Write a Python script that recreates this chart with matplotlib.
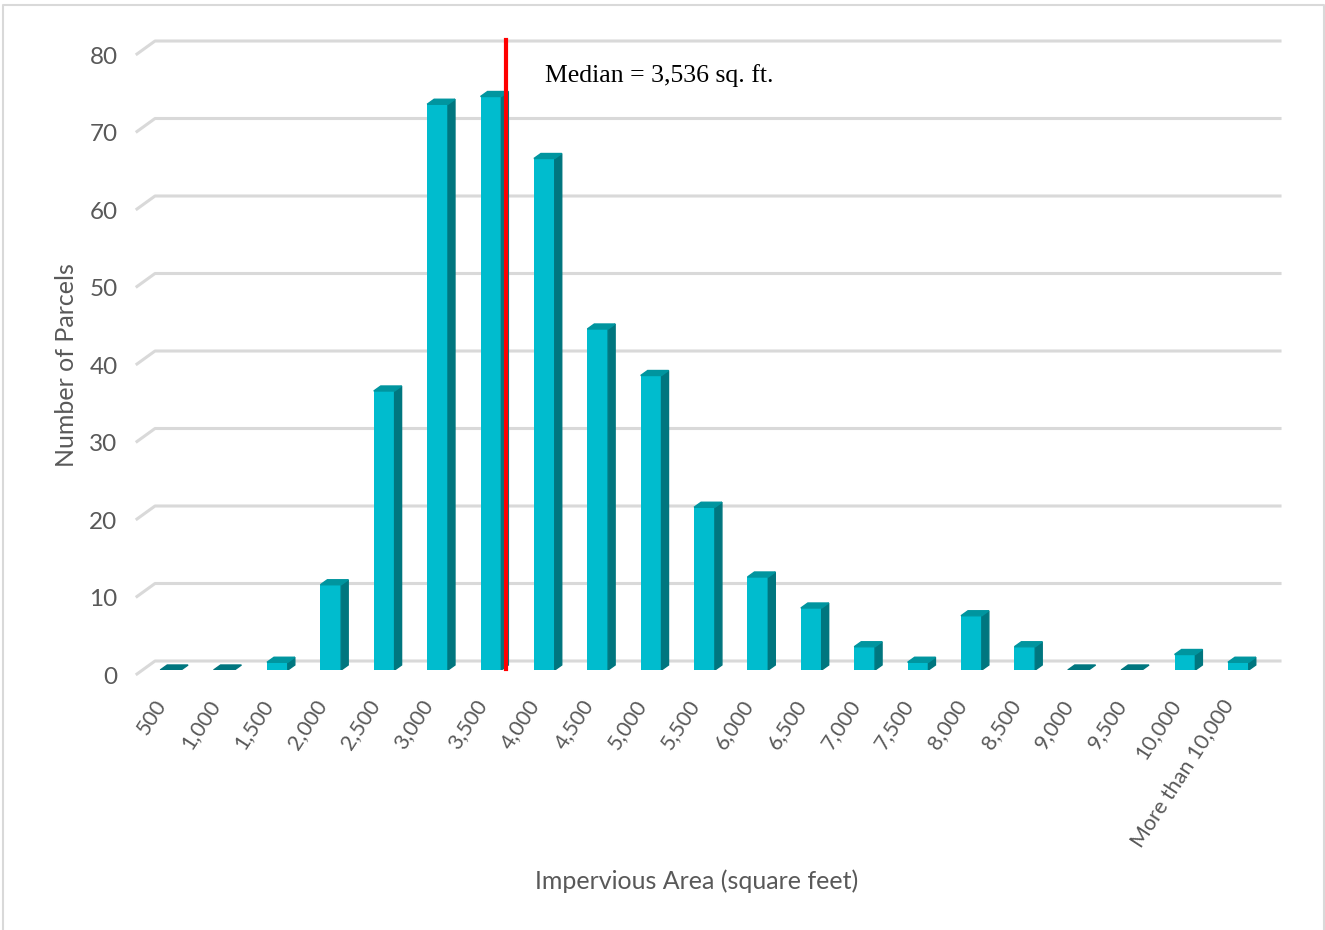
import numpy as np
import matplotlib
matplotlib.use("Agg")
import matplotlib.pyplot as plt
from matplotlib.patches import Polygon
from matplotlib.lines import Line2D
from matplotlib.transforms import IdentityTransform, ScaledTranslation

# histogram of impervious area per parcel
bins = ['500', '1,000', '1,500', '2,000', '2,500', '3,000', '3,500', '4,000',
        '4,500', '5,000', '5,500', '6,000', '6,500', '7,000', '7,500', '8,000',
        '8,500', '9,000', '9,500', '10,000', 'More than 10,000']
counts = [0, 0, 1, 11, 36, 73, 74, 66, 44, 38, 21, 12, 8, 3, 1, 7, 3, 0, 0, 2, 1]
bin_step = 500
median_sqft = 3536
yticks = list(range(0, 90, 10))

face = '#00BCCE'
side = '#00767F'
top = '#00959F'
grid = '#D9D9D9'
txt = '#595959'
sans = ['Lato', 'DejaVu Sans']

W, H = 1325, 930
fig = plt.figure(figsize=(W / 100, H / 100), dpi=100)
ax = fig.add_axes([137 / W, (H - 670) / H, (1280 - 137) / W, 620 / H])
ax.set_xlim(-0.63, 20.78)
ax.set_ylim(0, 80)
for s in ax.spines.values():
    s.set_visible(False)

x = np.arange(len(bins))
bw = 0.39
ax.bar(x, counts, width=bw, color=face, zorder=3)

# fake 3-D: depth offset in pixels
dx, dy = 7, 5
ident = IdentityTransform()
fig.canvas.draw()
for xi, c in zip(x, counts):
    (xl, y0), (xr, y1) = ax.transData.transform([(xi - bw / 2, 0), (xi + bw / 2, c)])
    if c > 0:
        ax.add_artist(Polygon([(xr, y0), (xr, y1), (xr + dx, y1 + dy), (xr + dx, y0 + dy)],
                              closed=True, color=side, transform=ident, zorder=3))
    ax.add_artist(Polygon([(xl, y1), (xr, y1), (xr + dx, y1 + dy), (xl + dx, y1 + dy)],
                          closed=True, color=side if c == 0 else top,
                          transform=ident, zorder=4))

# back-wall gridlines with the slanted floor edge
x_front = ax.transAxes.transform((0, 0))[0]
x_back = x_front + 18
x_end = ax.transAxes.transform((1, 0))[0]
for v in yticks:
    yv = ax.transData.transform((0, v))[1]
    ax.add_artist(Line2D([x_front, x_back, x_end], [yv - 4, yv + 9, yv + 9],
                         color=grid, lw=2.2, transform=ident, zorder=1,
                         clip_on=False))

# median marker
mpos = (median_sqft - bin_step) / bin_step
mx = ax.transData.transform((mpos, 0))[0] + dx + 4
yb = ax.transData.transform((0, 0))[1]
yt = ax.transData.transform((0, 80))[1] + 10
ax.add_artist(Line2D([mx, mx], [yb + 1, yt], color='#FF0000', lw=3,
                     transform=ident, zorder=6, clip_on=False))
ax.text(mx + 39, yt - 36, 'Median = 3,536 sq. ft.', transform=ident,
        ha='left', va='center', fontsize=18.5, family='Liberation Serif',
        color='black', zorder=7)

# axis labels and ticks
ax.set_yticks(yticks)
ax.set_xticks(x)
ax.set_xticklabels(bins, rotation=57, ha='right', va='center',
                   rotation_mode='anchor')
ax.tick_params(axis='both', length=0, colors=txt, labelsize=17.5)
ax.tick_params(axis='x', labelsize=15.5, pad=24)
ax.tick_params(axis='y', pad=14)
for lab in ax.get_yticklabels():
    lab.set_family(sans)
    lab.set_transform(lab.get_transform() + ScaledTranslation(0, -0.05, fig.dpi_scale_trans))
for lab in ax.get_xticklabels():
    lab.set_family(sans)
    lab.set_transform(lab.get_transform() + ScaledTranslation(-0.09, 0.02, fig.dpi_scale_trans))

fig.text(697 / W, 1 - 881 / H, 'Impervious Area (square feet)', ha='center',
         va='center', fontsize=18, color=txt, family=sans)
fig.text(67 / W, 1 - 365 / H, 'Number of Parcels', ha='center', va='center',
         rotation=90, fontsize=18, color=txt, family=sans)

# chart border
fig.add_artist(Line2D([3 / W, 3 / W, 1324 / W, 1324 / W],
                      [0, 1 - 5 / H, 1 - 5 / H, 0], color='#D9D9D9', lw=1.5,
                      transform=fig.transFigure))

fig.savefig('out.png', dpi=100)
